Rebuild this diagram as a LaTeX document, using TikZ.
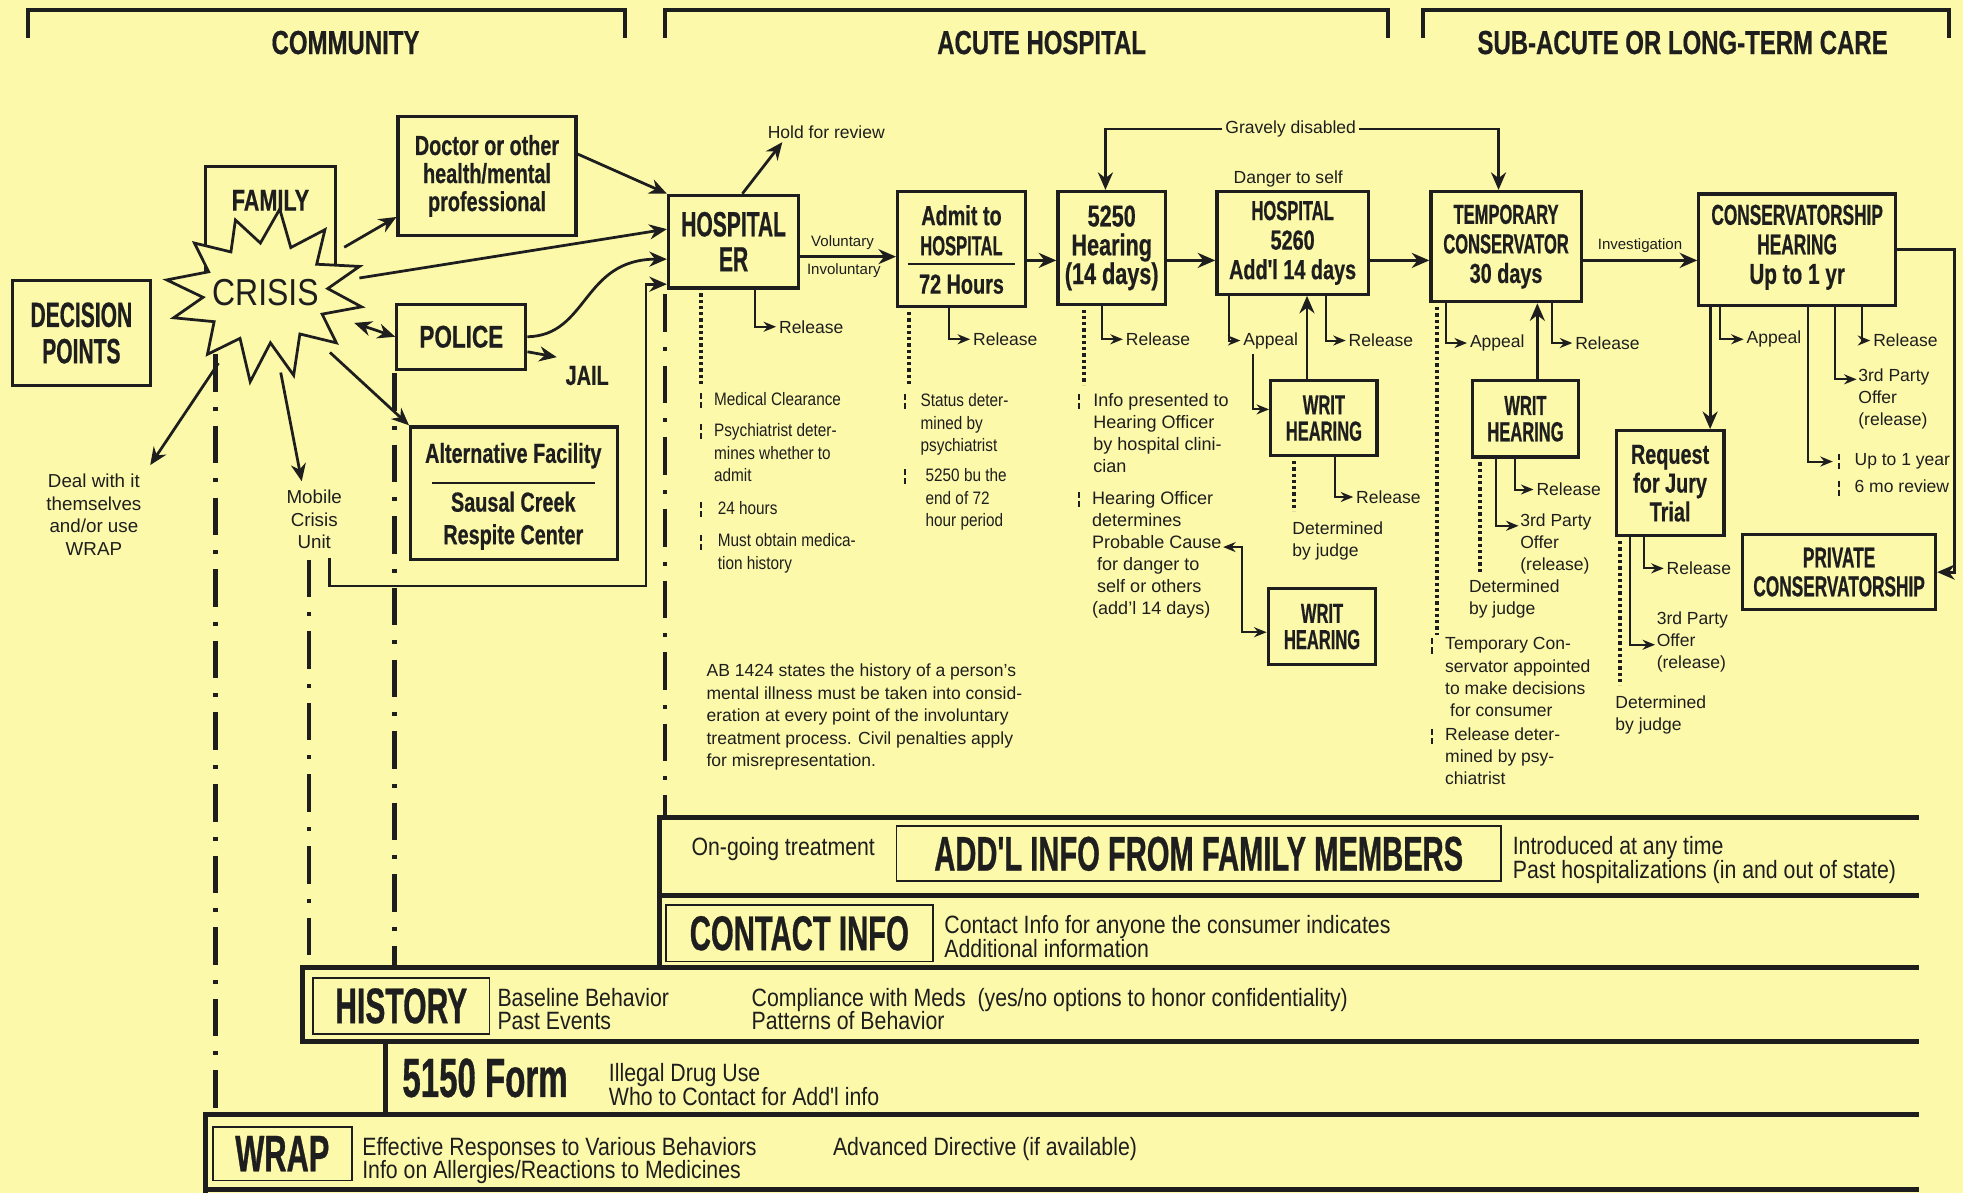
\documentclass[tikz,border=0pt]{standalone}
\usepackage{fontspec}
\setmainfont{Liberation Sans}
\newfontfamily\fcondA[FakeStretch=0.6,FakeBold=0.6]{Liberation Sans}
\newfontfamily\fcondB[FakeStretch=0.72,FakeBold=0.5]{Liberation Sans}
\newfontfamily\fnarrow[FakeStretch=0.85]{Liberation Sans}
\usetikzlibrary{arrows.meta,shapes.geometric,fit,calc}
\definecolor{bgc}{RGB}{252,249,170}
\definecolor{ink}{RGB}{30,30,30}
\newcommand\fntA[2]{\fcondA\bfseries\fontsize{#1}{#2}\selectfont}
\newcommand\fntB[2]{\fcondB\bfseries\fontsize{#1}{#2}\selectfont}
\newcommand\fntR[2]{\fontsize{#1}{#2}\selectfont}
\newcommand\fntN[2]{\fnarrow\fontsize{#1}{#2}\selectfont}
\begin{document}
\begin{tikzpicture}[x=0.5pt,y=-0.5pt,color=ink,
  box/.style={draw=ink, line width=1.3pt, inner sep=0pt},
  ibox/.style={draw=ink, line width=0.7pt, inner sep=0pt},
  bt/.style={align=center, inner sep=0pt},
  arr/.style={draw=ink, line width=1.1pt, -{Stealth[length=7pt,width=6pt]}},
  arrb/.style={draw=ink, line width=1.1pt, {Stealth[length=7pt,width=6pt]}-{Stealth[length=7pt,width=6pt]}},
  rel/.style={draw=ink, line width=0.8pt, -{Stealth[length=5pt,width=4pt]}},
  relb/.style={draw=ink, line width=0.8pt, {Stealth[length=5pt,width=4pt]}-{Stealth[length=5pt,width=4pt]}},
  dotl/.style={draw=ink, line width=1.6pt, dash pattern=on 1.3pt off 1.2pt},
  tickm/.style={draw=ink, line width=0.6pt, dash pattern=on 2.4pt off 1.2pt},
  ddl/.style={draw=ink, line width=1.8pt, dash pattern=on 15pt off 6pt on 1.6pt off 6pt},
  band/.style={draw=ink, line width=2pt},
  brk/.style={draw=ink, line width=1.6pt},
  lab/.style={inner sep=1pt, font=\fntR{7}{9}},
  col/.style={inner sep=0.5pt, anchor=north west, align=left, font=\fntN{7.2}{9}},
  colr/.style={inner sep=0.5pt, anchor=north west, align=left, font=\fntR{7}{8.8}},
  bandt/.style={inner sep=0.5pt, anchor=west, align=left, font=\fntN{10}{9.5}},
]
\fill[bgc] (0,0) rectangle (1568,953);
\useasboundingbox (0,0) rectangle (1568,953);

% ---------- headers
\draw[brk] (22,30) -- (22,8) -- (499,8) -- (499,30);
\draw[brk] (531,30) -- (531,8) -- (1109,8) -- (1109,30);
\draw[brk] (1137,30) -- (1137,8) -- (1557,8) -- (1557,30);
\node[font=\fntB{13.3}{14}] (hc) at (276,34) {COMMUNITY};
\node[font=\fntB{13.3}{14}] (ha) at (832,34) {ACUTE HOSPITAL};
\node[font=\fntB{13.3}{14}] (hs2) at (1344,34) {SUB-ACUTE OR LONG-TERM CARE};

% ---------- dash-dot lifelines
\draw[ddl] (172,283) -- (172,890);
\draw[ddl] (247,447) -- (247,773);
\draw[ddl] (315,298) -- (315,773);
\draw[ddl] (531,235) -- (531,653);

% ---------- community
\node[box, fit={(10,224)(120,308)}] (dp) {};
\node[bt, font=\fntA{14}{14.5}] (dpT) at (dp.center) {DECISION\\POINTS};
\node[box, fit={(164,133)(268,215)}] (family) {};
\draw[line width=1.1pt, fill=bgc] ({212+78*cos(10)},{234+64*sin(10)})
  \foreach \a/\r/\s in {25/50/40, 40/74/62, 55/48/40, 70/66/70, 85/46/40, 100/70/72,
     115/48/40, 130/72/64, 145/50/40, 160/78/58, 175/50/40, 190/80/60, 205/50/40,
     220/74/62, 235/48/40, 250/70/62, 265/46/40, 280/66/68, 295/48/40, 310/74/66,
     325/50/40, 340/80/62, 355/50/40}
  { -- ({212+\r*cos(\a)},{234+\s*sin(\a)}) } -- cycle;
\node[font=\fntB{12}{12}] (famt) at (216,160) {FAMILY};
\node[font=\fntN{15}{15}] (crisis) at (212,234) {CRISIS};
\node[ellipse, minimum width=76pt, minimum height=64pt, inner sep=0pt] (crisisE) at (212,234) {};

\node[box, fit={(318,93)(460,188)}] (doctor) {};
\node[bt, font=\fntB{11}{11.2}] (doctorT) at (doctor.center) {Doctor or other\\health/mental\\professional};
\node[box, fit={(317,243)(420,295)}] (police) {};
\node[bt, font=\fntB{12.5}{12.5}] (policeT) at (police.center) {POLICE};
\node[font=\fntB{11}{11}] (jail) at (469,300) {JAIL};
\node[box, fit={(328,341)(493,447)}] (alt) {};
\node[font=\fntB{11}{11}] (altA) at (410,364) {Alternative Facility};
\draw[line width=0.6pt] (345,386) -- (475,386);
\node[font=\fntB{11}{13}, align=center] (altB) at (410,416) {Sausal Creek\\Respite Center};
\node[align=center, font=\fntR{7.5}{9}] (deal) at (75,411) {Deal with it\\themselves\\and/or use\\WRAP};
\node[align=center, font=\fntR{7.5}{9}] (mobile) at (251,415) {Mobile\\Crisis\\Unit};

% ---------- acute hospital boxes
\node[box, fit={(534,156)(638,230)}] (er) {};
\node[bt, font=\fntA{14}{14}] (erT) at (er.center) {HOSPITAL\\ER};
\node[lab] (hold) at (660,106) {Hold for review};
\node[box, fit={(717,153)(819,245)}] (admit) {};
\node[font=\fntB{11}{12}, align=center] (admitt) at (768,184) {Admit to\\{\fcondA HOSPITAL}};
\draw[line width=0.8pt] (725,211) -- (811,211);
\node[font=\fntB{11}{11}] (admith) at (768,227) {72 Hours};
\node[box, fit={(845,153)(931,243)}] (fh) {};
\node[bt, font=\fntB{12}{11.5}] (fhT) at (fh.center) {5250\\Hearing\\(14 days)};
\node[box, fit={(972,153)(1093,235)}] (hs) {};
\node[bt, font=\fntB{11}{11.8}] (hsT) at (hs.center) {{\fcondA HOSPITAL}\\5260\\Add'l 14 days};
\node[box, fit={(1015,304)(1100,364)}] (writa) {};
\node[bt, font=\fntA{11}{10.5}] (writaT) at (writa.center) {WRIT\\HEARING};
\node[box, fit={(1013,470)(1099,531)}] (writb) {};
\node[bt, font=\fntA{11}{10.5}] (writbT) at (writb.center) {WRIT\\HEARING};

% ---------- sub-acute boxes
\node[box, fit={(1143,153)(1263,241)}] (temp) {};
\node[bt, font=\fntA{11}{11.8}] (tempT) at (temp.center) {TEMPORARY\\CONSERVATOR\\{\fcondB 30 days}};
\node[box, fit={(1357,155)(1514,244)}] (cons) {};
\node[bt, font=\fntA{11.5}{11.8}] (consT) at ([yshift=1pt]cons.center) {CONSERVATORSHIP\\HEARING\\{\fcondB Up to 1 yr}};
\node[box, fit={(1176,304)(1261,365)}] (writc) {};
\node[bt, font=\fntA{11}{10.5}] (writcT) at (writc.center) {WRIT\\HEARING};
\node[box, fit={(1291,344)(1377,428)}] (jury) {};
\node[bt, font=\fntB{11}{11.5}] (juryT) at (jury.center) {Request\\for Jury\\Trial};
\node[box, fit={(1392,427)(1546,487)}] (priv) {};
\node[bt, font=\fntA{11.5}{11.5}] (privT) at (priv.center) {PRIVATE\\CONSERVATORSHIP};

% ---------- small labels
\node[lab] (gd) at (1031,103) {Gravely disabled};
\node[lab] (dts) at (1029,143) {Danger to self};
\node[lab, font=\fntR{6}{6}] (vol) at (673,194) {Voluntary};
\node[lab, font=\fntR{6}{6}] (invol) at (674,216) {Involuntary};
\node[lab, font=\fntR{6}{6}] (inv) at (1310,196) {Investigation};

% ---------- community connectors
\draw[arr] (crisisE) -- ([yshift=8pt]doctor.south west);
\draw[arr] (crisisE) -- ([yshift=5pt]er.west);
\draw[arrb] (crisisE) -- (police.west);
\draw[arr] (crisisE) -- (alt.north west);
\draw[arr] (crisisE) -- (deal.north east);
\draw[arr] (crisisE) -- ([xshift=-5pt]mobile.north);
\draw[arr] ([yshift=8.75pt]doctor.east) -- (er.north west);
\draw[arr] (police.east) .. controls (470,268) and (465,207) .. ([yshift=-7pt]er.west);
\draw[arr] ([yshift=-6pt]police.east) -- (jail.north west);
\coordinate (mc) at (516,468);
\draw[arr] ([xshift=6pt]mobile.south) |- (mc) |- ([yshift=-17pt]er.west);

% ---------- main flow
\draw[arr] ([xshift=3.5pt]er.north) -- ([xshift=7pt]hold.south west);
\draw[arr] ([yshift=-6pt]er.east) -- ([yshift=-6pt]er.east -| admit.west);
\draw[arr] ([yshift=-4.5pt]admit.east) -- ([yshift=-4.5pt]admit.east -| fh.west);
\draw[arr] ([yshift=-5pt]fh.east) -- ([yshift=-5pt]fh.east -| hs.west);
\draw[arr] ([yshift=-7pt]hs.east) -- ([yshift=-7pt]hs.east -| temp.west);
\draw[arr] ([yshift=-5.5pt]temp.east) -- ([yshift=-5.5pt]temp.east -| cons.west);
\draw[arr] (cons.east) -- ++(46,0) |- (priv.east);
\draw[arr] (gd.west) -| ([xshift=-2.5pt]fh.north);
\draw[arr] (gd.east) -| ([xshift=-3pt]temp.north);

% ---------- ER
\node[lab] (rER) at (648,261) {Release};
\draw[rel] ([xshift=8.5pt]er.south) |- (rER.west);
\draw[dotl] ([xshift=-13pt,yshift=-1.5pt]er.south) -- ++(0,73);
\node[col] (eA) at (569,312) {Medical Clearance};
\node[col] (eB) at (569,337) {Psychiatrist deter-\\mines whether to\\admit};
\node[col] (eC) at (572,399) {24 hours};
\node[col] (eD) at (572,425) {Must obtain medica-\\tion history};
\draw[tickm] ([xshift=-4.5pt,yshift=-1pt]eA.north west) -- ++(0,-6pt);
\draw[tickm] ([xshift=-4.5pt,yshift=-1pt]eB.north west) -- ++(0,-6pt);
\draw[tickm] ([xshift=-6pt,yshift=-1pt]eC.north west) -- ++(0,-6pt);
\draw[tickm] ([xshift=-6pt,yshift=-1pt]eD.north west) -- ++(0,-6pt);

% ---------- Admit
\node[lab] (rAd) at (803,271) {Release};
\draw[rel] ([xshift=-5pt]admit.south) |- (rAd.west);
\draw[dotl] ([xshift=-21pt,yshift=-1.5pt]admit.south) -- ++(0,58);
\node[col] (aA) at (734,313) {Status deter-\\mined by\\psychiatrist};
\node[col] (aB) at (738,373) {5250 bu the\\end of 72\\hour period};
\draw[tickm] ([xshift=-5.5pt,yshift=-1pt]aA.north west) -- ++(0,-6pt);
\draw[tickm] ([xshift=-7.5pt,yshift=-1pt]aB.north west) -- ++(0,-6pt);

% ---------- 5250
\node[lab] (r50) at (925,271) {Release};
\draw[rel] ([xshift=-4pt]fh.south) |- (r50.west);
\draw[dotl] ([xshift=-11pt,yshift=-1.5pt]fh.south) -- ++(0,60);
\node[colr, font=\fntR{7.2}{8.8}] (fA) at (872,313) {Info presented to\\Hearing Officer\\by hospital clini-\\cian};
\node[colr, font=\fntR{7.2}{8.8}] (fB) at (871,391) {Hearing Officer\\determines\\Probable Cause\\\hspace{2pt}for danger to\\\hspace{2pt}self or others\\(add'l 14 days)};
\draw[tickm] ([xshift=-5pt,yshift=-1pt]fA.north west) -- ++(0,-6pt);
\draw[tickm] ([xshift=-4.5pt,yshift=-1pt]fB.north west) -- ++(0,-6pt);
\coordinate (pc) at (977,437);
\coordinate (pcb) at (992,437);
\draw[relb] (pc) -- (pcb) |- ([yshift=-2.25pt]writb.west);

% ---------- 5260
\node[lab] (ap60) at (1015,272) {Appeal};
\draw[rel] ([xshift=-25.25pt]hs.south) |- (ap60.west);
\node[lab] (r60) at (1103,272) {Release};
\draw[rel] ([xshift=13.25pt]hs.south) |- (r60.west);
\draw[rel] ([xshift=-7pt,yshift=-1pt]ap60.south) |- ([yshift=3.5pt]writa.west);
\draw[arr] ([xshift=-6.75pt]writa.north) -- ([xshift=-6.75pt]writa.north |- hs.south);
\node[lab] (rW1) at (1109,397) {Release};
\draw[rel] ([xshift=4.25pt]writa.south) |- (rW1.west);
\draw[dotl] ([xshift=-11.75pt,yshift=-1.5pt]writa.south) -- ++(0,40);
\node[colr] (dj1) at (1031,415) {Determined\\by judge};

% ---------- Temporary conservator
\node[lab] (apT) at (1196,274) {Appeal};
\draw[rel] ([xshift=-24pt]temp.south) |- (apT.west);
\node[lab] (rT) at (1284,274) {Release};
\draw[rel] ([xshift=18.5pt]temp.south) |- (rT.west);
\draw[arr] ([xshift=4.75pt]writc.north) -- ([xshift=4.75pt]writc.north |- temp.south);
\draw[dotl] ([xshift=-27.5pt,yshift=-1.5pt]temp.south) -- ++(0,262);
\node[colr] (tA) at (1153,508) {Temporary Con-\\servator appointed\\to make decisions\\\hspace{2pt}for consumer};
\node[colr] (tB) at (1153,580) {Release deter-\\mined by psy-\\chiatrist};
\draw[tickm] ([xshift=-4.5pt,yshift=-1pt]tA.north west) -- ++(0,-6pt);
\draw[tickm] ([xshift=-4.5pt,yshift=-1pt]tB.north west) -- ++(0,-6pt);
\node[lab] (rW3) at (1253,391) {Release};
\draw[rel] ([xshift=-4.25pt]writc.south) |- (rW3.west);
\node[colr] (tp3) at (1213,409) {3rd Party\\Offer\\(release)};
\draw[rel] ([xshift=-11.75pt]writc.south) |- ([yshift=-5.5pt]tp3.north west);
\draw[dotl] ([xshift=-18.25pt,yshift=-1.5pt]writc.south) -- ++(0,88);
\node[colr] (dj3) at (1172,462) {Determined\\by judge};

% ---------- Conservatorship hearing
\node[lab] (apC) at (1417,271) {Appeal};
\draw[rel] ([xshift=-30.75pt]cons.south) |- (apC.west);
\node[lab] (rC) at (1522,272) {Release};
\draw[rel] ([xshift=25.75pt]cons.south) |- (rC.west);
\draw[arr] ([xshift=-34.75pt]cons.south) -- ([xshift=-34.75pt]cons.south |- jury.north);
\node[colr] (tpC) at (1483,293) {3rd Party\\Offer\\(release)};
\draw[rel] ([xshift=15.25pt]cons.south) |- ([yshift=-5pt]tpC.north west);
\node[colr] (upa) at (1480,361) {Up to 1 year};
\node[colr] (upb) at (1480,382) {6 mo review};
\draw[rel] ([xshift=4.25pt]cons.south) |- ([xshift=-8pt]upa.west);
\draw[tickm] ([xshift=-5.5pt,yshift=-1pt]upa.north west) -- ++(0,-6pt);
\draw[tickm] ([xshift=-5.5pt,yshift=-1pt]upb.north west) -- ++(0,-6pt);

% ---------- Jury
\node[lab] (rJ) at (1357,454) {Release};
\draw[rel] ([xshift=-10.5pt]jury.south) |- (rJ.west);
\node[colr] (tpJ) at (1322,487) {3rd Party\\Offer\\(release)};
\draw[rel] ([xshift=-16pt]jury.south) |- ([yshift=-14pt]tpJ.north west);
\draw[dotl] ([xshift=-20pt,yshift=-1.5pt]jury.south) -- ++(0,115);
\node[colr] (djJ) at (1289,554) {Determined\\by judge};

% ---------- AB 1424
\node[colr, font=\fntR{7}{9}] (ab) at (563,529) {AB 1424 states the history of a person's\\mental illness must be taken into consid-\\eration at every point of the involuntary\\treatment process. Civil penalties apply\\for misrepresentation.};

% ---------- bands
\draw[band] (1533,653) -- (527,653) -- (527,773);
\draw[band] (527,715) -- (1533,715);
\draw[band] (1533,773) -- (242,773) -- (242,832) -- (1533,832);
\draw[band] (308,832) -- (308,890);
\draw[band] (1533,890) -- (164,890) -- (164,953);
\draw[band] (164,950) -- (1533,950);

\node[ibox, fit={(716,660)(1199,704)}] (addl) {};
\node[bt, font=\fntA{19.4}{19.4}] (addlT) at (addl.center) {ADD'L INFO FROM FAMILY MEMBERS};
\node[ibox, fit={(532,723)(745,768)}] (contact) {};
\node[bt, font=\fntA{19.5}{19.5}] (contactT) at (contact.center) {CONTACT INFO};
\node[ibox, fit={(250,781)(391,826)}] (hist) {};
\node[bt, font=\fntA{20}{20}] (histT) at (hist.center) {HISTORY};
\node[font=\fntA{22}{22}, anchor=west, inner sep=0pt] (f5150) at (321,861) {5150 Form};
\node[ibox, fit={(170,900)(281,943)}] (wrap) {};
\node[bt, font=\fntA{20.5}{20.5}] (wrapT) at (wrap.center) {WRAP};

\node[bandt] (og) at (551,678) {On-going treatment};
\node[bandt] (intro) at (1207,687) {Introduced at any time\\Past hospitalizations (in and out of state)};
\node[bandt] (cinfo) at (753,748) {Contact Info for anyone the consumer indicates\\Additional information};
\node[bandt] (base) at (396,806) {Baseline Behavior\\Past Events};
\node[bandt] (comp) at (599,806) {Compliance with Meds\ \ (yes/no options to honor confidentiality)\\Patterns of Behavior};
\node[bandt] (illeg) at (485,866) {Illegal Drug Use\\Who to Contact for Add'l info};
\node[bandt] (eff) at (288,927) {Effective Responses to Various Behaviors\\Info on Allergies/Reactions to Medicines};
\node[bandt] (adv) at (664,918) {Advanced Directive (if available)};
\end{tikzpicture}
\end{document}
